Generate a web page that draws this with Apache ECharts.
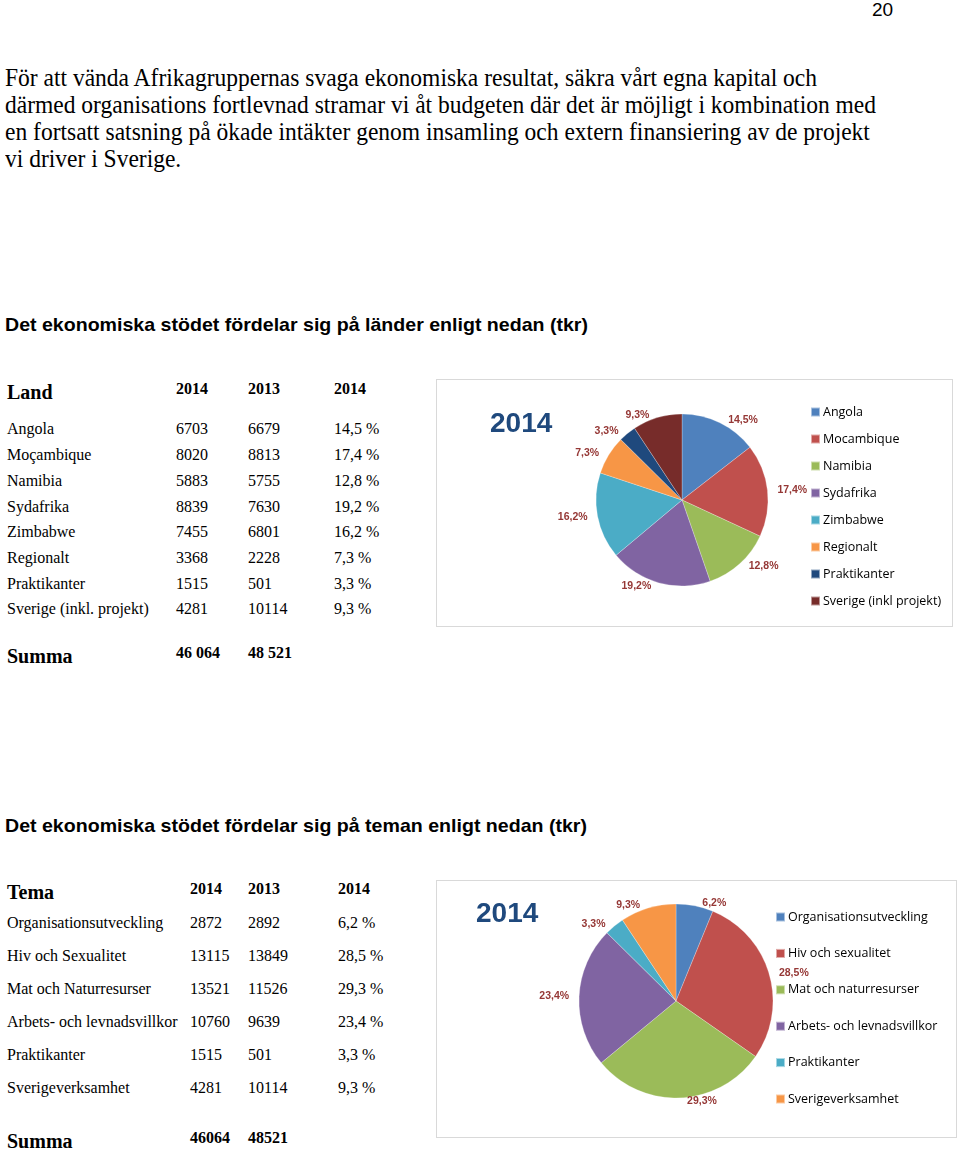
<!DOCTYPE html>
<html><head><meta charset="utf-8">
<script src="https://cdn.jsdelivr.net/npm/echarts@6/dist/echarts.min.js"></script>
<style>
html,body{margin:0;padding:0;background:#fff;width:960px;height:1149px;overflow:hidden;position:relative}
.t{position:absolute;white-space:nowrap;color:#000;transform-origin:0 50%;line-height:1}
.serif{font-family:"Liberation Serif","Times New Roman",serif}
.sans{font-family:"Liberation Sans",Arial,sans-serif}
.box{position:absolute;border:1px solid #d9d9d9;box-sizing:border-box;background:#fff}
</style></head>
<body>
<div id="page"></div>
<div id="c1" class="box" style="left:436px;top:379px;width:517px;height:248px"></div>
<div id="c2" class="box" style="left:436px;top:880px;width:521px;height:258px"></div>
<script>
// ---------- data ----------
const paragraphLines = [
  "För att vända Afrikagruppernas svaga ekonomiska resultat, säkra vårt egna kapital och",
  "därmed organisations fortlevnad stramar vi åt budgeten där det är möjligt i kombination med",
  "en fortsatt satsning på ökade intäkter genom insamling och extern finansiering av de projekt",
  "vi driver i Sverige."
];
const heading1 = "Det ekonomiska stödet fördelar sig på länder enligt nedan (tkr)";
const heading2 = "Det ekonomiska stödet fördelar sig på teman enligt nedan (tkr)";
const tableHeader1 = ["Land", "2014", "2013", "2014"];
const countries = ["Angola","Moçambique","Namibia","Sydafrika","Zimbabwe","Regionalt","Praktikanter","Sverige (inkl. projekt)"];
const countries2014 = ["6703","8020","5883","8839","7455","3368","1515","4281"];
const countries2013 = ["6679","8813","5755","7630","6801","2228","501","10114"];
const countriesPct = ["14,5 %","17,4 %","12,8 %","19,2 %","16,2 %","7,3 %","3,3 %","9,3 %"];
const summa1 = ["Summa", "46 064", "48 521"];
const pie1Names = ["Angola","Mocambique","Namibia","Sydafrika","Zimbabwe","Regionalt","Praktikanter","Sverige (inkl projekt)"];
const pie1Values = [14.5, 17.4, 12.8, 19.2, 16.2, 7.3, 3.3, 9.3];
const pie1Colors = ["#4F81BD","#C0504D","#9BBB59","#8064A2","#4BACC6","#F79646","#1F497D","#772C2A"];

const tableHeader2 = ["Tema", "2014", "2013", "2014"];
const themes = ["Organisationsutveckling","Hiv och Sexualitet","Mat och Naturresurser","Arbets- och levnadsvillkor","Praktikanter","Sverigeverksamhet"];
const themes2014 = ["2872","13115","13521","10760","1515","4281"];
const themes2013 = ["2892","13849","11526","9639","501","10114"];
const themesPct = ["6,2 %","28,5 %","29,3 %","23,4 %","3,3 %","9,3 %"];
const summa2 = ["Summa", "46064", "48521"];
const pie2Names = ["Organisationsutveckling","Hiv och sexualitet","Mat och naturresurser","Arbets- och levnadsvillkor","Praktikanter","Sverigeverksamhet"];
const pie2Values = [6.2, 28.5, 29.3, 23.4, 3.3, 9.3];
const pie2Colors = ["#4F81BD","#C0504D","#9BBB59","#8064A2","#4BACC6","#F79646"];
const pageNumber = "20";

// ---------- page text ----------
const page = document.getElementById('page');
function txt(s, x, yc, cls, size, bold, fitW){
  const d = document.createElement('div');
  d.className = 't ' + cls;
  d.textContent = s;
  d.style.left = x + 'px';
  d.style.top = (yc - size/2) + 'px';
  d.style.fontSize = size + 'px';
  d.style.height = size + 'px';
  if (bold) d.style.fontWeight = 'bold';
  page.appendChild(d);
  if (fitW){ const w = d.getBoundingClientRect().width; d.style.transform = 'scaleX(' + (fitW / w) + ')'; }
  return d;
}
txt(pageNumber, 872, 9, 'sans', 19, false);
const paraY = [78, 105, 132, 159];
let scale0 = null;
paragraphLines.forEach((l,i)=>{
  const d = txt(l, 5, paraY[i], 'serif', 26, false, null);
  const w = d.getBoundingClientRect().width;
  if (i === 0) scale0 = 812 / w;
  d.style.transform = 'scaleX(' + scale0 + ')';
});
txt(heading1, 5, 324, 'sans', 19, true, 583);
txt(heading2, 5, 825, 'sans', 19, true, 582);

// table 1
const c1x = [7, 176, 248, 334];
txt(tableHeader1[0], c1x[0], 392, 'serif', 20, true);
for (let k=1;k<4;k++) txt(tableHeader1[k], c1x[k], 389, 'serif', 16, true);
const rowY1 = [429, 455, 481, 507, 532, 558, 584, 609];
countries.forEach((n,i)=>{
  txt(n, c1x[0], rowY1[i], 'serif', 16, false);
  txt(countries2014[i], c1x[1], rowY1[i], 'serif', 16, false);
  txt(countries2013[i], c1x[2], rowY1[i], 'serif', 16, false);
  txt(countriesPct[i], c1x[3], rowY1[i], 'serif', 16, false);
});
txt(summa1[0], c1x[0], 656, 'serif', 20, true);
txt(summa1[1], c1x[1], 653, 'serif', 16, true);
txt(summa1[2], c1x[2], 653, 'serif', 16, true);

// table 2
const c2x = [7, 190, 248, 338];
txt(tableHeader2[0], c2x[0], 892, 'serif', 20, true);
for (let k=1;k<4;k++) txt(tableHeader2[k], c2x[k], 889, 'serif', 16, true);
const rowY2 = [923, 956, 989, 1022, 1055, 1088];
themes.forEach((n,i)=>{
  txt(n, c2x[0], rowY2[i], 'serif', 16, false);
  txt(themes2014[i], c2x[1], rowY2[i], 'serif', 16, false);
  txt(themes2013[i], c2x[2], rowY2[i], 'serif', 16, false);
  txt(themesPct[i], c2x[3], rowY2[i], 'serif', 16, false);
});
txt(summa2[0], c2x[0], 1141, 'serif', 20, true);
txt(summa2[1], c2x[1], 1138, 'serif', 16, true);
txt(summa2[2], c2x[2], 1138, 'serif', 16, true);

// ---------- pies ----------
const labelColor = '#953735';
function pieOption(names, values, colors, center, radius, legendLeft, legendTop, legendGap, titleLeft, titleTop){
  return {
    animation: false,
    color: colors,
    title: { text: '2014', left: titleLeft, top: titleTop, padding: 0,
      textStyle: { fontFamily: 'Liberation Sans', fontWeight: 'bold', fontSize: 28, color: '#1F497D' } },
    legend: {
      orient: 'vertical', left: legendLeft, top: legendTop, itemGap: legendGap, padding: 0,
      itemWidth: 9, itemHeight: 9, icon: 'rect',
      textStyle: { fontFamily: 'Open Sans', fontSize: 12.5, lineHeight: 14, color: '#000', padding: [0,0,0,-2] }
    },
    series: [{
      type: 'pie', center: center, radius: radius, startAngle: 90, clockwise: true,
      data: names.map((n,i)=>({name: n, value: values[i]})),
      itemStyle: { borderColor: 'rgba(255,255,255,0.5)', borderWidth: 0.5 },
      label: { show: true, position: 'outside', formatter: p => p.value.toFixed(1).replace('.', ',') + '%',
        fontFamily: 'Liberation Sans', fontWeight: 'bold', fontSize: 10.5, color: labelColor },
      labelLine: { show: false, length: 3, length2: 2 },
      emphasis: { disabled: true }
    }]
  };
}
const ch1 = echarts.init(document.getElementById('c1'));
ch1.setOption(pieOption(pie1Names, pie1Values, pie1Colors, [245, 120], 86, 373, 25, 13, 53, 30));
const ch2 = echarts.init(document.getElementById('c2'));
ch2.setOption(pieOption(pie2Names, pie2Values, pie2Colors, [239, 120], 97, 338, 29, 22.4, 39, 19));
</script>
</body></html>
